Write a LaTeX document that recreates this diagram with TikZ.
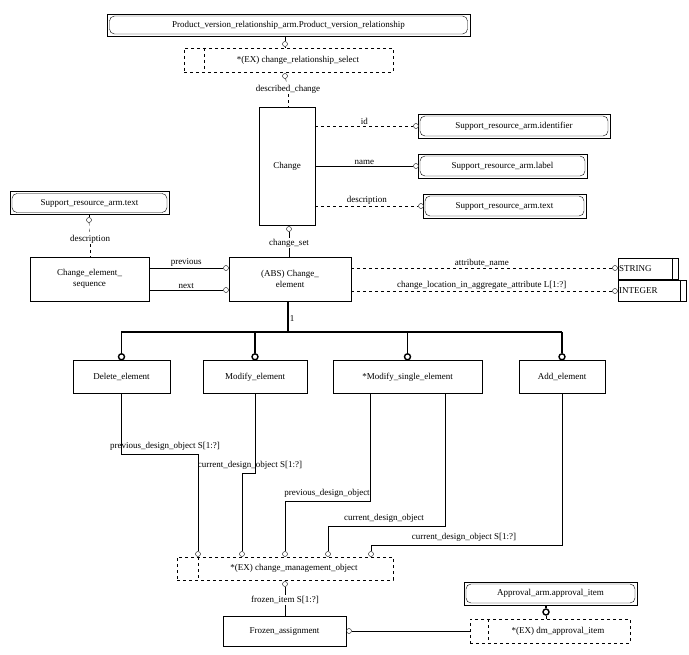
\documentclass[tikz,border=0pt]{standalone}
\usepackage{fontspec}
\setmainfont{Liberation Serif}
\usetikzlibrary{fit}
\begin{document}
\begin{tikzpicture}[x=1pt,y=-1pt,font=\fontsize{9}{10.5}\selectfont,
  box/.style={draw,rectangle,inner sep=1pt,align=center},
  dbox/.style={draw,dashed,rectangle,inner sep=1pt,align=center},
  rbox/.style={draw,rounded corners=5pt,inner sep=1.5pt},
  outer/.style={draw,inner sep=2pt},
  circ/.style={draw,circle,fill=white,inner sep=0pt,minimum size=5pt},
  tcirc/.style={draw,circle,fill=white,inner sep=0pt,minimum size=6pt,line width=1.4pt},
  lbl/.style={inner sep=1pt},
  thick line/.style={line width=1.6pt}]
\useasboundingbox (0,0) rectangle (689,655);
% top
\node[rbox,minimum width=358,minimum height=18] (pvri) at (288.5,25) {Product\_version\_relationship\_arm.Product\_version\_relationship};
\node[outer,fit=(pvri),inner sep=2pt] (pvr) {};
\node[dbox,minimum width=209,minimum height=24] (crs) at (288.5,60) {};
\draw[dashed] (204,48) -- (204,72);
\node at (298,60) {*(EX) change\_relationship\_select};
\node[circ] (c1) at (285,44) {};
\node[circ] (c2) at (285,76) {};
\draw (pvr.south -| c1) -- (c1); \draw (c1) -- (crs.north -| c1);
\node[lbl] (dc) at (288,89) {described\_change};
% Change
\node[box,minimum width=56,minimum height=118] (chg) at (287,166) {Change};
\draw[dashed] (c2) -- (dc); \draw[dashed] (dc) -- (chg.north -| dc);
% right supports
\node[rbox,minimum width=188,minimum height=20] (idi) at (514,126) {Support\_resource\_arm.identifier};
\node[outer,fit=(idi)] (idb) {};
\node[rbox,minimum width=165,minimum height=20] (lbi) at (502.5,166) {Support\_resource\_arm.label};
\node[outer,fit=(lbi)] (lbb) {};
\node[rbox,minimum width=159,minimum height=20] (txi) at (504.5,206) {Support\_resource\_arm.text};
\node[outer,fit=(txi)] (txb) {};
\node[circ] (ci1) at (416,126) {};
\node[circ] (ci2) at (416,166) {};
\node[circ] (ci3) at (421,206) {};
\draw[dashed] (chg.east |- ci1) -- node[lbl,above] {id} (ci1);
\draw (chg.east |- ci2) -- node[lbl,above] {name} (ci2);
\draw[dashed] (chg.east |- ci3) -- node[lbl,above] {description} (ci3);
% left support
\node[rbox,minimum width=155,minimum height=19] (ltxi) at (89.5,203) {Support\_resource\_arm.text};
\node[outer,fit=(ltxi)] (ltxb) {};
\node[circ] (cl) at (89,220) {};
\node[lbl] (ldesc) at (90,239) {description};
\node[box,minimum width=119,minimum height=44] (ces) at (89.5,279) {Change\_element\_\\sequence};
\draw[dashed] (ltxb.south -| cl) -- (cl); \draw[dashed] (cl) -- (ldesc); \draw[dashed] (ldesc) -- (ces.north -| ldesc);
% ABS change element
\node[box,minimum width=122,minimum height=44] (ce) at (290,279) {(ABS) Change\_\\element};
\node[circ] (ccs) at (289,229) {};
\node[lbl] (cs) at (289,243) {change\_set};
\draw (chg.south -| ccs) -- (ccs); \draw (ccs) -- (cs); \draw (cs) -- (ce.north -| cs);
\node[circ] (cp) at (226,268) {};
\node[circ] (cn) at (226,290) {};
\draw (ces.east |- cp) -- node[lbl,above] {previous} (cp);
\draw (ces.east |- cn) -- node[lbl,above] {next} (cn);
% STRING/INTEGER
\node[box,minimum width=60,minimum height=21] (str) at (648,268.5) {};
\node[anchor=west,inner sep=1pt] at (618,268.5) {STRING};
\draw (672,258) -- (672,279);
\node[box,minimum width=68,minimum height=21] (int) at (652,290.5) {};
\node[anchor=west,inner sep=1pt] at (618,290.5) {INTEGER};
\draw (680,280) -- (680,301);
\node[circ] (cst) at (615,268) {};
\node[circ] (cin) at (615,291) {};
\draw[dashed] (ce.east |- cst) -- node[lbl,above] {attribute\_name} (cst);
\draw[dashed] (ce.east |- cin) -- node[lbl,above] {change\_location\_in\_aggregate\_attribute L[1:?]} (cin);
% subtypes
\node[box,minimum width=97,minimum height=33] (del) at (121.5,377) {Delete\_element};
\node[box,minimum width=104,minimum height=33] (mod) at (255,377) {Modify\_element};
\node[box,minimum width=149,minimum height=33] (mse) at (407.5,377) {*Modify\_single\_element};
\node[box,minimum width=86,minimum height=33] (add) at (562,377) {Add\_element};
\coordinate (bar) at (288,332);
\draw[thick line] (ce.south -| bar) -- node[right,lbl,pos=0.55] {1} (bar);
\draw[thick line] (121,332) -- (562,332);
\foreach \b in {del,mod,mse,add}{
  \node[tcirc] (t\b) at (\b.north) [yshift=3.5pt] {};
  \draw[thick line] (\b.north |- bar) -- (t\b);
}
% change management object
\node[dbox,minimum width=216,minimum height=23] (cmo) at (285,568.5) {};
\draw[dashed] (198,557) -- (198,580);
\node at (294,568.5) {*(EX) change\_management\_object};
\node[circ] (m1) at (198,554) {};
\node[circ] (m2) at (242,554) {};
\node[circ] (m3) at (285,554) {};
\node[circ] (m4) at (328,554) {};
\node[circ] (m5) at (371,554) {};
\draw (del.south) |- (198,454) -- (m1);
\node[lbl] at (165,446) {previous\_design\_object S[1:?]};
\draw (mod.south) |- (242,473) -- (m2);
\node[lbl] at (250,465) {current\_design\_object S[1:?]};
\draw (370,393.5) |- (285,501) -- (m3);
\node[lbl] at (327,493) {previous\_design\_object};
\draw (445,393.5) |- (328,526) -- (m4);
\node[lbl] at (384,518) {current\_design\_object};
\draw (add.south) |- (371,545) -- (m5);
\node[lbl] at (464,537) {current\_design\_object S[1:?]};
% frozen
\node[circ] (cf) at (285,584) {};
\node[lbl] (fi) at (285,600) {frozen\_item S[1:?]};
\node[box,minimum width=123,minimum height=30] (fa) at (284.5,631) {Frozen\_assignment};
\draw (cmo.south -| cf) -- (cf); \draw (cf) -- (fi); \draw (fi) -- (fa.north -| fi);
% approval
\node[rbox,minimum width=169,minimum height=19] (api) at (550.5,593.5) {Approval\_arm.approval\_item};
\node[outer,fit=(api)] (apb) {};
\node[dbox,minimum width=160,minimum height=24] (dm) at (550,631) {};
\draw[dashed] (488,619) -- (488,643);
\node at (558,631) {*(EX) dm\_approval\_item};
\node[tcirc] (ca) at (546,612) {};
\draw[line width=1.4pt] (apb.south -| ca) -- (ca);
\draw (ca) -- (dm.north -| ca);
\node[circ] (cfa) at (349,631) {};
\draw (fa.east) -- (cfa); \draw (cfa) -- (dm.west);
\end{tikzpicture}
\end{document}
